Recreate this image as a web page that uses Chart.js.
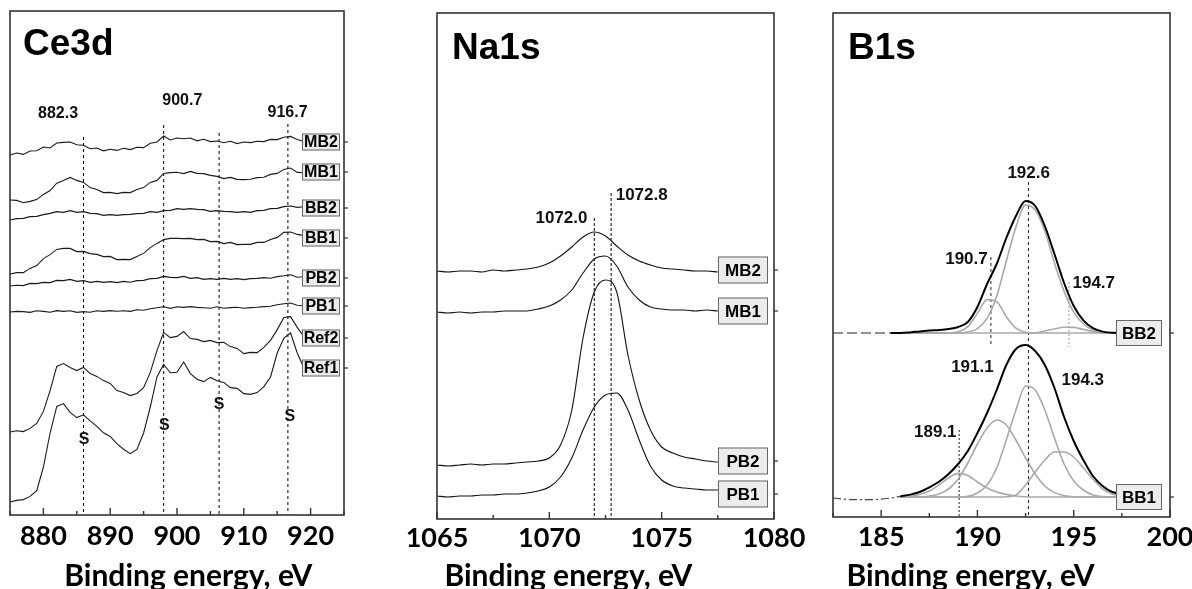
<!DOCTYPE html>
<html><head><meta charset="utf-8">
<script src="https://cdn.jsdelivr.net/npm/chart.js@4.4.1/dist/chart.umd.min.js"></script>
<style>
html,body{margin:0;padding:0;background:#fff;}
#wrap{position:relative;width:1192px;height:589px;overflow:hidden;background:#fff;}
canvas{position:absolute;left:0;top:0;}
</style></head><body>
<div id="wrap">
<canvas id="c1" width="1192" height="589"></canvas>
<canvas id="c2" width="1192" height="589"></canvas>
<canvas id="c3" width="1192" height="589"></canvas>
</div>
<script>
// ---------------- Ce3d panel ----------------
const ceEnergy = [875,876,877,878,879,880,881,882,883,884,885,886,887,888,889,890,891,892,893,894,895,896,897,898,899,900,901,902,903,904,905,906,907,908,909,910,911,912,913,914,915,916,917,918,919];
const ceMB2 = [180.5,181.5,180.8,182.5,182.6,184.5,184,186.5,186.8,187,185.6,185.4,183.6,184,182.6,183.4,182.8,183.9,183.2,184.4,184.2,186.4,187,190,188,189,188.6,189,187.6,188.4,187.2,187.5,186.6,187.4,186.2,187,186.7,187.4,187.2,188.3,188.2,189.4,189.8,188.3,187.2];
const ceMB1 = [158,157.8,156.6,157.3,158.2,160.8,162.7,166.4,167.7,169.3,167.8,166.8,164.2,163.3,161.7,161.8,161.2,161.8,161.7,163.3,164.2,166.8,167.8,171.3,171.7,171.9,171.2,172.3,171.3,171.2,170.3,169.8,168.7,169.3,168.3,168.2,168.4,169.2,169.4,170.8,171.3,173.3,174,171.8,171.6];
const ceBB2 = [148,148.7,148.8,149.7,149.8,150.7,151.3,152.2,151.8,152.7,151.8,152.2,151.3,151.2,150.3,150.7,150.3,150.7,150.8,151.2,151.3,152.2,151.8,152.7,152.8,153.7,153.3,153.7,153.3,153.2,152.3,152.7,152.3,152.2,151.8,152.2,151.8,152.7,152.8,153.7,153.8,154.7,155,154.3,154.6];
const ceBB1 = [121,121.7,121.7,123.8,125.2,128.7,130.7,133.3,133.8,133.8,132.2,132.3,131.2,130.8,129.7,129.8,128.2,128.3,128.2,129.8,131.3,134.2,136.3,138.2,138.8,138.8,138.7,138.8,138.2,138.3,137.2,137.3,136.2,136.8,135.7,135.8,135.8,136.8,136.8,138.3,139.3,141.8,142,140.8,140.2];
const cePB2 = [115,115.4,115.2,116.3,116.2,116.8,116.7,117.8,117.7,118.3,117.3,117.7,116.8,117.3,116.8,117.2,116.7,117.3,116.9,117.7,117.8,118.7,118.8,119.8,119.3,119.2,119.8,118.8,119.2,118.3,118.7,118.3,118.8,118.3,118.7,118.2,118.7,118.8,119.2,118.9,119.7,120.1,120.6,119.4,119.6];
const cePB1 = [102,102.3,102.2,101.8,102.6,102.3,101.9,102.7,102.3,102.6,101.8,102.2,101.9,102.6,102.3,102.7,102.4,102.6,102.3,103.1,102.9,103.6,104.1,104.6,103.8,104.6,104.3,104.7,104.3,104.1,103.9,104.6,103.9,104.2,104.4,103.9,104.2,104.4,104.7,104.9,105.6,106.1,106.5,105.4,105.1];
const ceRef2 = [42,42.6,42.2,43.8,46.3,52.3,62.7,74.8,76.2,74.3,72.7,74.3,71.2,69.8,67.7,66.3,62.7,61.8,60.2,61.3,64.2,71.8,82.7,91.8,89.2,89.8,92.2,88.7,88.3,87.2,87.8,86.7,86.8,84.7,83.8,81.2,81.8,81.7,84.3,87.8,93.2,99.3,99.7,94.3,89.7];
const ceRef1 = [7,7.8,8.2,9.8,12.7,24.5,41.5,54.8,56.2,51.8,49.2,50.6,47.6,44.8,41.6,39.8,36.2,33.4,31.2,33.3,41.5,54.5,69.5,75.8,71.6,71.9,77,71.2,68.4,67.2,69.3,67.6,66.8,64.2,63.8,61.2,60.8,61.7,64.7,69.5,81.5,89,91.5,81.5,74];
const ceSeriesNames = ['MB2','MB1','BB2','BB1','PB2','PB1','Ref2','Ref1'];
const ceLabelLevels = [187,172,154,139,119,105,89,74];
const ceMarkE = [886,898,906.3,916.6];
const ceMarkTop = [189.5,195.5,191.5,196];
const cePeakText = ['882.3','900.7','916.7','S','S','S','S'];
const cePeakE = [882.2,900.8,916.55,886.1,898.1,906.3,916.9];
const cePeakV = [201,207.5,201.5,38,45,55.5,49.5];

// ---------------- Na1s panel ----------------
const naEnergy = [1065,1065.5,1066,1066.5,1067,1067.5,1068,1068.5,1069,1069.5,1070,1070.5,1071,1071.5,1072,1072.5,1073,1073.5,1074,1074.5,1075,1075.5,1076,1076.5,1077,1077.5];
const naMB2 = [122.5,122,122.5,122.5,122,123,122.5,123,123.5,124.5,126.5,130,134.5,139.5,142,140,135,130.5,127.5,125.5,124,123.5,123,122.5,122.5,122];
const naMB1 = [102,101.5,102,101.5,102,102,102.5,102.5,102.5,103.5,105,108,113,121.5,128.5,130,125,114.5,108,104.5,103.5,103,103,102.5,103,102.5];
const naPB2 = [25.5,25,25.5,26,25.5,26,26,26.5,27,27.5,29,35.5,53,89,112,118,112,80.5,58,43,34.5,31.5,29.5,28.5,27.5,27];
const naPB1 = [10,9.5,10,10,10.5,10.5,11,11,11.5,12.5,14.5,19.5,29,43,54.5,60.5,61.5,53,38,25,18,15,14,13.5,13,13];
const naSeriesNames = ['MB2','MB1','PB2','PB1'];
const naLabelLevels = [123,102.5,27.5,11];
const naMarkE = [1072.0,1072.75];
const naMarkTop = [149,161.5];
const naPeakText = ['1072.0','1072.8'];
const naPeakE = [1070.54,1074.11];
const naPeakV = [149,160.5];

// ---------------- B1s panel ----------------
const bb2Energy = [185.5,186,186.5,187,187.5,188,188.5,189,189.5,190,190.5,191,191.5,192,192.5,193,193.5,194,194.5,195,195.5,196,196.5,197,197.5];
const bb2Envelope = [91.5,91.5,91.8,92.3,92.7,93,93.5,94.5,97,104.5,116,126,139,150,157.5,155,145,131,116.5,105,97.8,93.9,92.2,91.6,91.5];
const bb2Peak1926 = [91.5,91.5,91.5,91.5,91.5,91.5,91.5,91.5,92,93.7,98.8,109.9,127.5,144.5,155.5,153,142.5,126.5,112.3,101.9,96,93.1,92,91.6,91.5];
const bb2Peak1907 = [91.5,91.5,91.5,91.5,91.5,91.5,91.5,92.1,94.7,101.3,108.2,107.2,99.7,93.9,91.9,91.5,91.5,91.5,91.5,91.5,91.5,91.5,91.5,91.5,91.5];
const bb2Peak1947 = [91.5,91.5,91.5,91.5,91.5,91.5,91.5,91.5,91.5,91.5,91.5,91.5,91.5,91.5,91.5,91.5,92.5,93.5,94.4,94.3,93.3,92.3,91.7,91.5,91.5];
const bb2LeadE = [182.5,185.5];
const bb2Lead = [91.5,91.5];
const bb1Energy = [186,186.5,187,187.5,188,188.5,189,189.5,190,190.5,191,191.5,192,192.5,193,193.5,194,194.5,195,195.5,196,196.5,197,197.5];
const bb1Envelope = [9.8,10.7,12,14.3,17.1,21,26,32.5,41.5,51.5,63,75.5,83.5,85.5,82.5,75.5,64,49.5,37.5,28,20,15,12,11];
const bb1Peak1891 = [9.6,10,10.8,12.5,15.5,19,21.3,20.3,17,14,12,10.8,10,9.6,9.5,9.5,9.5,9.5,9.5,9.5,9.5,9.5,9.5,9.5];
const bb1Peak1911 = [9.5,9.5,9.5,10,11,13.5,18.5,26.5,36,44,48,45.5,38,29,21,15,11.7,10.2,9.6,9.5,9.5,9.5,9.5,9.5];
const bb1Peak1926 = [9.5,9.5,9.5,9.5,9.5,9.5,9.5,9.8,11.5,15.5,24,38,53,65,63,53,39,26,17.5,13,10.5,9.7,9.5,9.5];
const bb1Peak1943 = [9.5,9.5,9.5,9.5,9.5,9.5,9.5,9.5,9.5,9.5,9.5,9.6,10.5,15.5,22,28,32,32,29.5,24,18.5,13.5,11,10];
const bb1LeadE = [182.5,183.5,184.5,185.5,186];
const bb1Lead = [9,8.2,8.2,9,9.8];
const bSeriesNames = ['BB2','BB1'];
const bLabelLevels = [91.5,9.5];
const bMarkE = [192.65,190.7,194.75,189.05];
const bMarkTop = [167,129.5,117,43];
const bMarkBottom = [null,84.5,84.5,null];
const bPeakText = ['192.6','190.7','194.7','191.1','194.3','189.1'];
const bPeakE = [192.66,189.43,196.04,189.74,195.47,187.81];
const bPeakV = [171.5,128.5,116.5,74.5,68,42];

// ---------------- helpers ----------------
const W = 1192, H = 589;
function pts(xs, ys){ return xs.map((x,i)=>({x:x, y:ys[i]})); }
function line(xs, ys, color, width, extra){
  return Object.assign({data:pts(xs,ys), borderColor:color, borderWidth:width, pointRadius:0, fill:false, tension:0}, extra||{});
}
function markLines(es, tops, bottoms, ymin, styles){
  return es.map((e,i)=>{
    const b = (bottoms && bottoms[i]!=null) ? bottoms[i] : ymin;
    const st = styles ? styles[i] : {color:'#000', dash:[3,3], width:1};
    return {data:[{x:e,y:tops[i]},{x:e,y:b}], borderColor:st.color, borderWidth:st.width, borderDash:st.dash, pointRadius:0, fill:false, order:5};
  });
}
function makeDeco(o){
  return {
    id:'deco',
    afterDatasetsDraw(chart){
      const ctx = chart.ctx, a = chart.chartArea, x = chart.scales.x, y = chart.scales.y;
      ctx.save();
      // label boxes
      o.labels.forEach((t,i)=>{
        const cy = y.getPixelForValue(o.levels[i]);
        const bx = a.right - o.box.gap - o.box.w;
        ctx.fillStyle = '#ececec';
        ctx.fillRect(bx, cy - o.box.h/2, o.box.w, o.box.h);
        ctx.strokeStyle = '#666'; ctx.lineWidth = 1;
        ctx.strokeRect(bx+0.5, cy - o.box.h/2 + 0.5, o.box.w-1, o.box.h-1);
        ctx.fillStyle = '#000';
        ctx.font = 'bold ' + o.box.font + 'px "Liberation Sans", Arial, sans-serif';
        ctx.textAlign = 'center'; ctx.textBaseline = 'middle';
        ctx.fillText(t, bx + o.box.w/2, cy + 1);
        ctx.strokeStyle = '#333'; ctx.lineWidth = 1.2;
        ctx.beginPath(); ctx.moveTo(a.right, cy); ctx.lineTo(a.right + 4, cy); ctx.stroke();
      });
      // frame
      ctx.strokeStyle = '#333'; ctx.lineWidth = 1.6;
      ctx.strokeRect(a.left, a.top, a.right - a.left, a.bottom - a.top);
      // inner tick marks
      ctx.lineWidth = 1.4;
      x.ticks.forEach(t=>{
        const px = x.getPixelForValue(t.value);
        const major = (t.label !== '' && t.label != null);
        ctx.beginPath(); ctx.moveTo(px, a.bottom); ctx.lineTo(px, a.bottom - (major ? 7 : 4)); ctx.stroke();
      });
      // peak texts
      ctx.fillStyle = '#111';
      ctx.textAlign = 'center'; ctx.textBaseline = 'middle';
      o.texts.forEach((t,i)=>{
        ctx.font = 'bold ' + (t === 'S' ? o.sSize : o.textSize) + 'px "Liberation Sans", Arial, sans-serif';
        ctx.fillText(t, x.getPixelForValue(o.textE[i]), y.getPixelForValue(o.textV[i]));
      });
      // panel title
      ctx.fillStyle = '#000';
      ctx.textAlign = 'left'; ctx.textBaseline = 'alphabetic';
      ctx.font = 'bold ' + o.titleSize + 'px "Liberation Sans", Arial, sans-serif';
      ctx.fillText(o.title, a.left + o.titleDx, a.top + o.titleDy);
      // axis title
      ctx.textAlign = 'center';
      ctx.font = 'bold 30px Lato, "Open Sans", sans-serif';
      ctx.fillText('Binding energy, eV', x.getPixelForValue(o.axisTitleE), 586);
      ctx.restore();
    }
  };
}
function panel(id, o){
  return new Chart(document.getElementById(id), {
    type:'line',
    data:{datasets:o.datasets},
    options:{
      responsive:false, animation:false, devicePixelRatio:1,
      layout:{padding:{left:o.frame[0], right:W - o.frame[1], top:o.frame[2], bottom:0}},
      plugins:{legend:{display:false}, tooltip:{enabled:false}},
      elements:{point:{radius:0}},
      scales:{
        x:{type:'linear', min:o.xmin, max:o.xmax,
           grid:{display:false}, border:{display:false},
           ticks:{stepSize:o.step, autoSkip:false, maxRotation:0, minRotation:0, padding:o.tickPad, color:'#000',
                  font:{family:'Lato', weight:'bold', size:27},
                  callback:(v)=> (Math.abs(v % o.labelEvery) < 1e-6) ? String(v) : ''},
           afterFit(s){ s.height = H - o.frame[3]; s.paddingLeft = 0; s.paddingRight = 0; }},
        y:{display:false, min:o.ymin, max:o.ymax}
      }
    },
    plugins:[makeDeco(o.deco)]
  });
}

// ---------------- Ce3d ----------------
const ceSeries = [ceMB2, ceMB1, ceBB2, ceBB1, cePB2, cePB1, ceRef2, ceRef1];
panel('c1', {
  frame:[10,344,11,515], xmin:875, xmax:925, step:5, labelEvery:10, tickPad:-3, ymin:0.5, ymax:252.5,
  datasets: ceSeries.map(s=>line(ceEnergy, s, '#1a1a1a', 1.1)).concat(markLines(ceMarkE, ceMarkTop, null, 0.5)),
  deco:{labels:ceSeriesNames, levels:ceLabelLevels, box:{w:38,h:17,gap:4,font:16},
        texts:cePeakText, textE:cePeakE, textV:cePeakV, textSize:16, sSize:16,
        title:'Ce3d', titleSize:37, titleDx:13, titleDy:44, axisTitleE:901.7}
});

// ---------------- Na1s ----------------
const naSeries = [naMB2, naMB1, naPB2, naPB1];
panel('c2', {
  frame:[437,774,13,519], xmin:1065, xmax:1080, step:2.5, labelEvery:5, tickPad:-5, ymin:-1.5, ymax:251.5,
  datasets: naSeries.map(s=>line(naEnergy, s, '#111', 1.1, {cubicInterpolationMode:'monotone'})).concat(markLines(naMarkE, naMarkTop, null, -1.5, [{color:'#000',dash:[3,2],width:1},{color:'#000',dash:[3,2],width:1}])),
  deco:{labels:naSeriesNames, levels:naLabelLevels, box:{w:50,h:27,gap:6,font:17},
        texts:naPeakText, textE:naPeakE, textV:naPeakV, textSize:17, sSize:17,
        title:'Na1s', titleSize:37, titleDx:15, titleDy:46, axisTitleE:1070.85}
});

// ---------------- B1s ----------------
const gray = '#a9a9a9';
const mono = {cubicInterpolationMode:'monotone'};
panel('c3', {
  frame:[833,1170,13,517], xmin:182.5, xmax:200, step:2.5, labelEvery:5, tickPad:-4, ymin:-0.5, ymax:251.5,
  datasets: [
    line(bb2Energy, bb2Envelope, '#000', 2, Object.assign({order:0}, mono)),
    line(bb1Energy, bb1Envelope, '#000', 2, Object.assign({order:0}, mono)),
    line(bb2LeadE, bb2Lead, '#222', 1.2, {borderDash:[10,4], order:1}),
    line(bb1LeadE, bb1Lead, '#444', 1.2, {borderDash:[8,3,2,3], order:1, cubicInterpolationMode:'monotone'}),
    line(bb2Energy, bb2Peak1926, gray, 1.6, Object.assign({order:2}, mono)),
    line(bb2Energy, bb2Peak1907, gray, 1.6, Object.assign({order:2}, mono)),
    line(bb2Energy, bb2Peak1947, gray, 1.6, Object.assign({order:2}, mono)),
    line(bb1Energy, bb1Peak1891, gray, 1.6, Object.assign({order:2}, mono)),
    line(bb1Energy, bb1Peak1911, gray, 1.6, Object.assign({order:2}, mono)),
    line(bb1Energy, bb1Peak1926, gray, 1.6, Object.assign({order:2}, mono)),
    line(bb1Energy, bb1Peak1943, gray, 1.6, Object.assign({order:2}, mono))
  ].concat(markLines(bMarkE, bMarkTop, bMarkBottom, -0.5, [
    {color:'#222',dash:[3,3],width:1},{color:'#222',dash:[3,3],width:1},{color:'#999',dash:[2,2],width:1},{color:'#222',dash:[2,2],width:1}])),
  deco:{labels:bSeriesNames, levels:bLabelLevels, box:{w:46,h:26,gap:8,font:17},
        texts:bPeakText, textE:bPeakE, textV:bPeakV, textSize:17, sSize:17,
        title:'B1s', titleSize:37, titleDx:15, titleDy:46, axisTitleE:189.64}
});
</script>
</body></html>
